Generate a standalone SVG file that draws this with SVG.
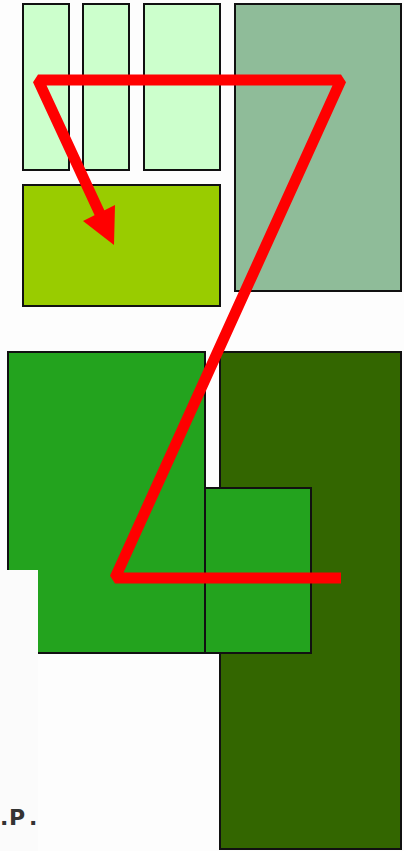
<svg xmlns="http://www.w3.org/2000/svg" width="404" height="851" viewBox="0 0 404 851">
  <style>
    .box { stroke: #111; stroke-width: 2; }
    .pale { fill: #ccffcc; }
    .sage { fill: #8fbc99; }
    .lime { fill: #99cc00; }
    .green { fill: #23a31e; }
    .dark { fill: #336600; }
    .conn { fill: none; stroke: #ff0000; stroke-width: 11; stroke-linejoin: bevel; }
    .label { font-family: "DejaVu Sans", "Liberation Sans", sans-serif; font-size: 22px; font-weight: bold; fill: #333; }
  </style>
  <rect x="0" y="0" width="404" height="851" fill="#fdfdfd"/>
  <g id="node-a"><rect class="box pale" x="23" y="4" width="46" height="166"/></g>
  <g id="node-b"><rect class="box pale" x="83" y="4" width="46" height="166"/></g>
  <g id="node-c"><rect class="box pale" x="144" y="4" width="76" height="166"/></g>
  <g id="node-d"><rect class="box sage" x="235" y="4" width="166" height="287"/></g>
  <g id="node-e"><rect class="box lime" x="23" y="185" width="197" height="121"/></g>
  <g id="node-f"><rect class="box dark" x="220" y="352" width="181" height="497"/></g>
  <g id="node-g"><rect class="box green" x="8" y="352" width="197" height="301"/></g>
  <g id="node-h"><rect class="box green" x="205" y="488" width="106" height="165"/></g>
  <g id="panel">
    <rect x="0" y="570" width="38" height="281" fill="#fbfbfb"/>
    <text class="label" x="0 9 29" y="825">.P.</text>
  </g>
  <g id="connectors">
    <path class="conn" d="M341,578 L115,578 L341,80 L38,80 L101,216"/>
    <polygon points="114,245 83,221 115,205" fill="#ff0000"/>
  </g>
</svg>
